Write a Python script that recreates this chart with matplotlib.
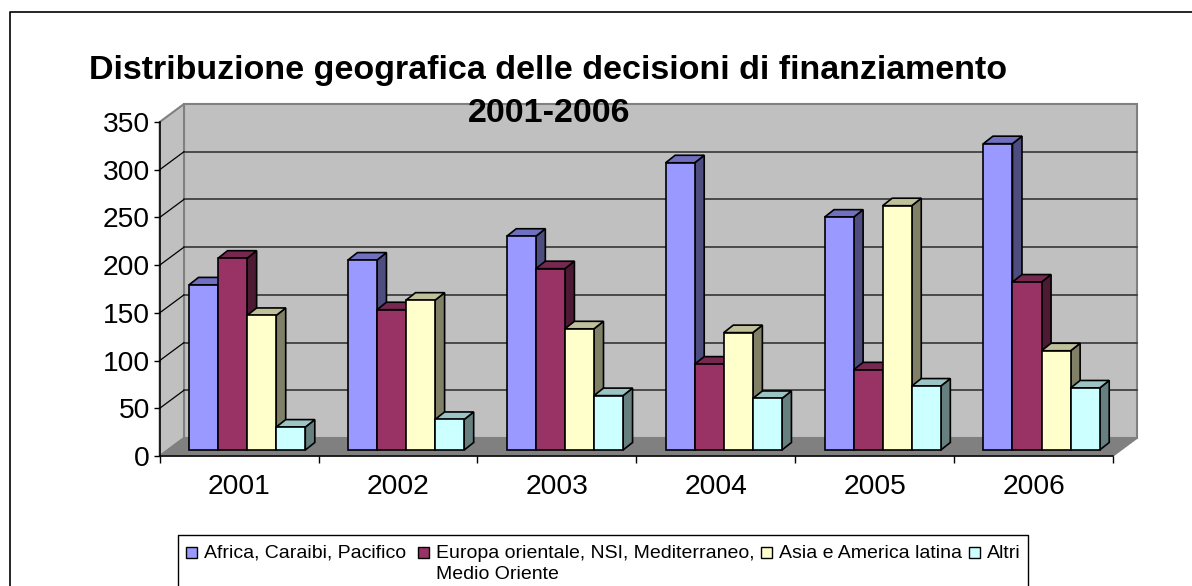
import matplotlib
matplotlib.use('Agg')
import matplotlib.pyplot as plt
from matplotlib.patches import Polygon, Rectangle
from matplotlib.lines import Line2D

years = ['2001', '2002', '2003', '2004', '2005', '2006']
series_names = ['Africa, Caraibi, Pacifico',
                'Europa orientale, NSI, Mediterraneo,\nMedio Oriente',
                'Asia e America latina', 'Altri']
africa = [173, 199, 224, 301, 244, 321]
europa = [201, 147, 190, 90, 84, 176]
asia = [141, 157, 127, 123, 256, 104]
altri = [24, 32, 57, 54, 67, 65]
title = 'Distribuzione geografica delle decisioni di finanziamento\n2001-2006'
yticks = [0, 50, 100, 150, 200, 250, 300, 350]

front = ['#9999ff', '#993366', '#ffffcc', '#ccffff']
top = ['#7070c0', '#772850', '#c0c09a', '#9cc4c4']
side = ['#4d4d80', '#4d1a33', '#808066', '#668080']

W, H = 1192, 586
plt.rcParams['font.family'] = ['Liberation Sans', 'DejaVu Sans']

fig = plt.figure(figsize=(W / 100, H / 100), dpi=100)
# front plane of the 3d box, in pixels
left, right, y0, y350 = 159.7, 1113, 456, 122
ax = fig.add_axes([left / W, 1 - y0 / H, (right - left) / W, (y0 - y350) / H])
ax.set_xlim(0, len(years))
ax.set_ylim(0, 350)
ax.patch.set_visible(False)

# pixel lengths turned into data lengths
ux = (right - left) / len(years)
uy = (y0 - y350) / 350
dx, dy = 24.3 / ux, 18 / uy       # wall depth
bx, by = 9.5 / ux, 7.5 / uy       # bar depth
ox, oy = 8 / ux, 6 / uy           # bar offset from front
n = len(years)


def poly(pts, fc, ec='none', lw=1.0, z=1):
    ax.add_patch(Polygon(pts, closed=True, fc=fc, ec=ec, lw=lw, zorder=z,
                         clip_on=False, joinstyle='miter'))


def page_line(xs, ys, lw=1.0):
    # line given in image pixels, y measured from the top
    fig.add_artist(Line2D([x / W for x in xs], [1 - y / H for y in ys],
                          color='black', lw=lw, solid_capstyle='projecting'))


# walls and floor
poly([(dx, dy), (n + dx, dy), (n + dx, 350 + dy), (dx, 350 + dy)], '#c0c0c0', '#808080', 1.5)
poly([(0, 0), (dx, dy), (dx, 350 + dy), (0, 350)], '#c0c0c0', '#808080', 1.5)
poly([(0, 0), (n, 0), (n + dx, dy), (dx, dy)], '#808080', '#808080', 1.0)
for v in yticks[1:-1]:
    ax.plot([dx, n + dx], [v + dy, v + dy], color='#404040', lw=1.3, zorder=2, clip_on=False)
    ax.plot([0, dx], [v, v + dy], color='black', lw=0.9, zorder=2, clip_on=False)

# bars, left to right so that each front covers the previous side
bar_w = 0.183
start = 0.134
for i in range(n):
    for k, vals in enumerate([africa, europa, asia, altri]):
        x0 = i + start + k * bar_w + ox
        x1 = x0 + bar_w
        b = oy
        t = vals[i] + oy
        z = 3 + i + k * 0.1
        poly([(x1, b), (x1 + bx, b + by), (x1 + bx, t + by), (x1, t)], side[k], 'black', 1.2, z)
        poly([(x0, t), (x1, t), (x1 + bx, t + by), (x0 + bx, t + by)], top[k], 'black', 1.2, z)
        poly([(x0, b), (x1, b), (x1, t), (x0, t)], front[k], 'black', 1.2, z)

ax.spines['top'].set_visible(False)
ax.spines['right'].set_visible(False)
ax.spines['left'].set_linewidth(1.1)
ax.spines['bottom'].set_linewidth(1.1)
ax.spines['left'].set_zorder(20)
ax.spines['bottom'].set_zorder(20)
ax.set_yticks(yticks)
ax.set_xticks(range(n + 1))
ax.set_xticklabels([])
ax.set_xticks([i + 0.5 for i in range(n)], labels=years, minor=True)
ax.tick_params(axis='x', which='major', length=5, width=1, direction='out')
ax.tick_params(axis='x', which='minor', length=0, labelsize=20.3, pad=13)
ax.tick_params(axis='y', length=4, width=1, labelsize=20.3, pad=3)

line1, line2 = title.split('\n')
fig.text(548 / W, 1 - 71 / H, line1, ha='center', va='center',
         fontsize=24.5, fontweight='bold')
fig.text(549 / W, 1 - 114 / H, line2, ha='center', va='center',
         fontsize=24.5, fontweight='bold', zorder=30)

# page frame and legend box both run off the bottom of the image
page_line([10, 10, W + 2], [H + 2, 12, 12], lw=1.2)
page_line([178, 178, 1028, 1028], [H + 2, 535, 535, H + 2])
legend_x = [185.5, 418, 761, 969]
for px, name, c in zip(legend_x, series_names, front):
    fig.add_artist(Rectangle((px / W, 1 - 557.5 / H), 11 / W, 11 / H, transform=fig.transFigure,
                             fc=c, ec='black', lw=1.0))
    fig.text((px + 18) / W, 1 - 544.5 / H, name, ha='left', va='top', fontsize=14.0,
             linespacing=1.38)

fig.savefig('out.png', dpi=100)
